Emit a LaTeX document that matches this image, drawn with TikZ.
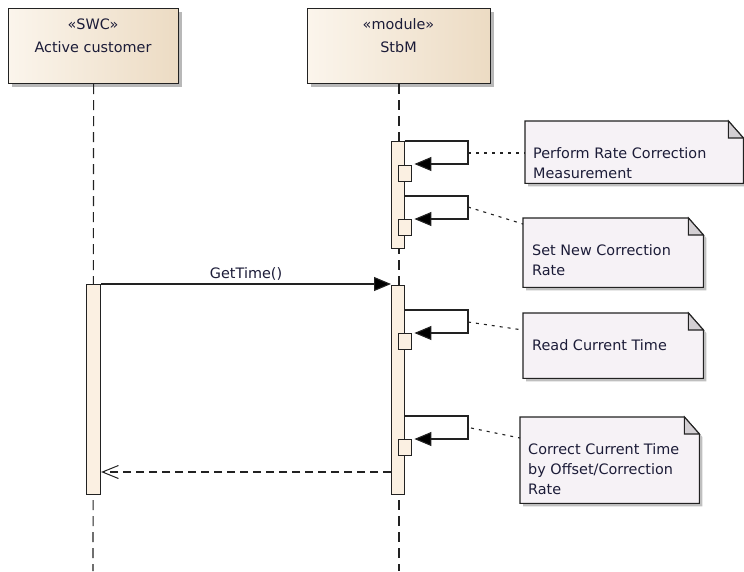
\documentclass[tikz,border=0pt]{standalone}
\usepackage{fontspec}
\setmainfont{DejaVu Sans}
\usetikzlibrary{arrows.meta,shadows}
\definecolor{headL}{HTML}{FBF5EC}
\definecolor{headR}{HTML}{ECDBC3}
\definecolor{barfill}{HTML}{FBF0E2}
\definecolor{notefill}{HTML}{F6F2F6}
\definecolor{foldfill}{HTML}{D3CFD3}
\definecolor{ink}{HTML}{222222}
\definecolor{txt}{HTML}{1C1C38}
\tikzset{
  head/.style={draw=ink, line width=1.2pt, left color=headL, right color=headR,
    drop shadow={shadow xshift=3pt,shadow yshift=-3pt,fill=black!55,opacity=0.5},
    inner sep=0pt, anchor=north west},
  lbl/.style={text=txt, inner sep=0pt, anchor=base},
  life/.style={draw=ink, line width=1.1pt, dash pattern=on 10pt off 6pt},
  bar/.style={draw=ink, line width=1.1pt, fill=barfill, inner sep=0pt, anchor=north west},
  exec/.style={draw=ink, line width=1.1pt, fill=barfill, inner sep=0pt, anchor=north west,
    minimum width=13pt, minimum height=16pt},
  msg/.style={draw=ink, line width=1.1pt, -{Triangle[length=17pt,width=14pt,fill=black]}},
  ret/.style={draw=ink, line width=1.1pt, dash pattern=on 8pt off 5pt,
    -{Straight Barb[length=16pt,width=13pt,line width=1pt]}},
  notebox/.style={draw=none, inner sep=0pt, anchor=north west},
  noteline/.style={draw=ink, line width=1.1pt, fill=notefill, line join=miter,
    drop shadow={shadow xshift=3pt,shadow yshift=-3pt,fill=black!55,opacity=0.45}},
  foldline/.style={draw=ink, line width=1.1pt, fill=foldfill},
  notetext/.style={text=txt, inner sep=0pt, align=left, anchor=base west},
  link/.style={draw=ink, line width=1.1pt, dash pattern=on 3pt off 5pt},
}
\begin{document}
\begin{tikzpicture}[x=1pt,y=-1pt,font=\fontsize{14.4}{20}\selectfont]
\useasboundingbox (0,0) rectangle (744,571);
\fill[white] (0,0) rectangle (744,571);

% lifeline heads
\node[head, minimum width=170pt, minimum height=75pt] (h1) at (8,8) {};
\node[head, minimum width=183pt, minimum height=75pt] (h2) at (307,8) {};
\node[lbl] (h1s) at (93,29.5) {«SWC»};
\node[lbl] (h1n) at (93,52) {Active customer};
\node[lbl] (h2s) at (398.5,29.5) {«module»};
\node[lbl] (h2n) at (398.5,52) {StbM};

% lifelines
\coordinate (e1) at (93,571);
\coordinate (e2) at (399,571);
\draw[life] (h1.south) -- (e1);
\draw[life] (h2.south -| e2) -- (e2);

% activation bars
\node[bar, minimum width=14pt, minimum height=210pt] (a1) at (86,284) {};
\node[bar, minimum width=12.5pt, minimum height=107pt] (b1) at (391,141) {};
\node[bar, minimum width=12.5pt, minimum height=209pt] (b2) at (391,285) {};

% execution boxes of self messages
\node[exec] (s1) at (398.3,164.5) {};
\node[exec] (s2) at (398.3,219) {};
\node[exec] (s3) at (398.3,333) {};
\node[exec] (s4) at (398.3,439) {};

% self messages
\coordinate (r1a) at (468,141); \coordinate (r1b) at (468,164);
\coordinate (r2a) at (468,196); \coordinate (r2b) at (468,219);
\coordinate (r3a) at (468,310); \coordinate (r3b) at (468,333);
\coordinate (r4a) at (468,416); \coordinate (r4b) at (468,439);
\draw[msg] (b1.east |- r1a) -- (r1a) -- (r1b) -- ([xshift=2pt]s1.east |- r1b);
\draw[msg] (b1.east |- r2a) -- (r2a) -- (r2b) -- ([xshift=2pt]s2.east |- r2b);
\draw[msg] (b2.east |- r3a) -- (r3a) -- (r3b) -- ([xshift=2pt]s3.east |- r3b);
\draw[msg] (b2.east |- r4a) -- (r4a) -- (r4b) -- ([xshift=2pt]s4.east |- r4b);

% GetTime call and return
\draw[msg] (a1.north east) -- (b2.west |- a1.north east) node[midway, lbl, yshift=6pt] (gt) {GetTime()};
\coordinate (rt) at (391,472);
\draw[ret] (rt) -- (a1.east |- rt);

% notes
\node[notebox, minimum width=218pt, minimum height=62pt] (n1) at (525,121) {};
\node[notebox, minimum width=180pt, minimum height=69pt] (n2) at (523,218) {};
\node[notebox, minimum width=180pt, minimum height=65pt] (n3) at (523,313) {};
\node[notebox, minimum width=179pt, minimum height=86pt] (n4) at (520,417) {};
\foreach \n in {n1,n2,n3,n4}{
  \draw[noteline] (\n.north west) -- ([xshift=-15pt]\n.north east) -- ([yshift=-17pt]\n.north east)
     -- (\n.south east) -- (\n.south west) -- cycle;
  \draw[foldline] ([xshift=-15pt]\n.north east) -- ([yshift=-17pt]\n.north east)
     -- ([xshift=-15pt,yshift=-17pt]\n.north east) -- cycle;
}
\node[notetext] (t1) at ([xshift=8pt,yshift=-57pt]n1.north west) {Perform Rate Correction\\Measurement};
\node[notetext] (t2) at ([xshift=9pt,yshift=-57pt]n2.north west) {Set New Correction\\Rate};
\node[notetext] (t3) at ([xshift=9pt,yshift=-37pt]n3.north west) {Read Current Time};
\node[notetext] (t4) at ([xshift=8pt,yshift=-77pt]n4.north west) {Correct Current Time\\by Offset/Correction\\Rate};

% note links
\coordinate (k1) at (468,153);
\coordinate (k2) at (468,207);
\coordinate (k3) at (468,322);
\coordinate (k4) at (471,428);
\draw[link] (k1) -- (n1.west |- k1);
\draw[link] (k2) -- ([yshift=-6pt]n2.north west);
\draw[link] (k3) -- ([yshift=-17pt]n3.north west);
\draw[link] (k4) -- ([yshift=-21pt]n4.north west);
\end{tikzpicture}
\end{document}
